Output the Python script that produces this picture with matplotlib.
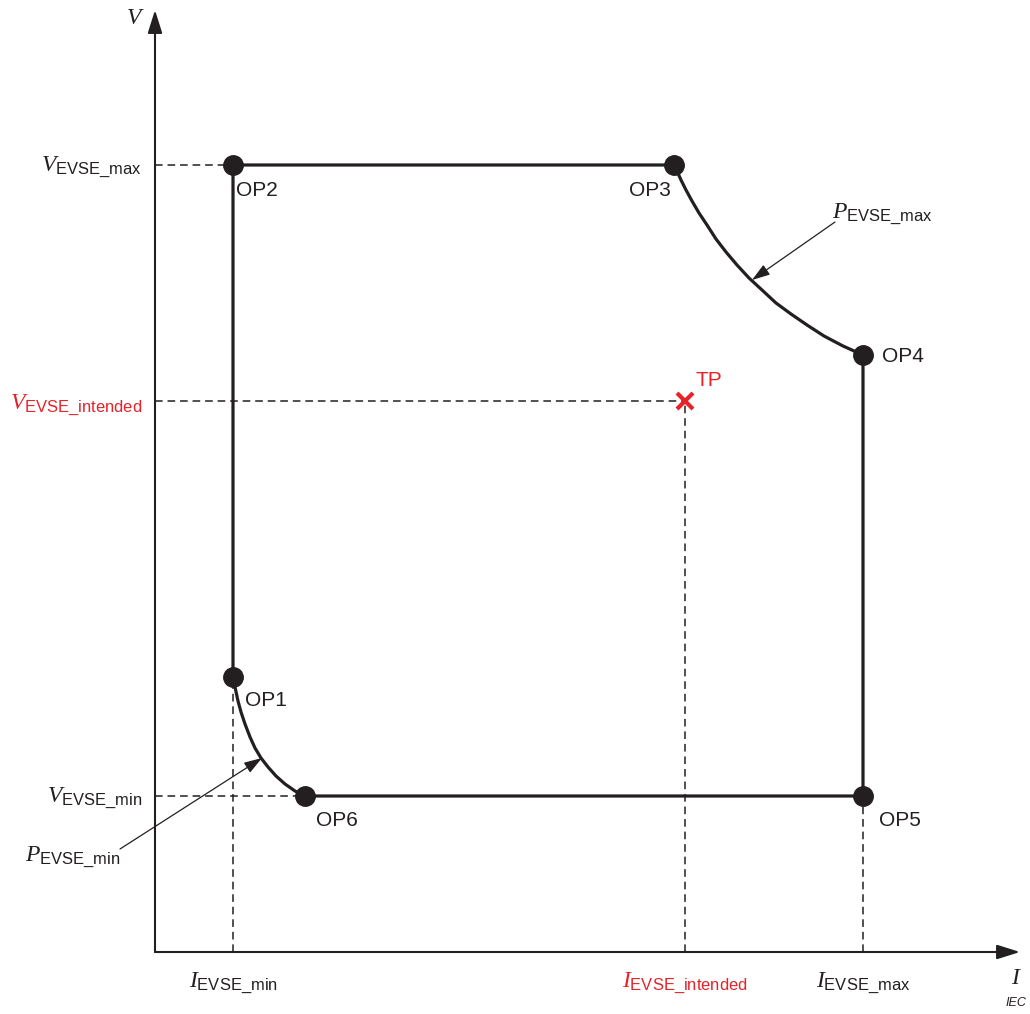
import matplotlib
matplotlib.use("Agg")
import matplotlib.pyplot as plt

plt.rcParams["font.family"] = ["Liberation Sans", "DejaVu Sans"]
plt.rcParams["mathtext.fontset"] = "custom"
plt.rcParams["mathtext.rm"] = "Liberation Sans"
plt.rcParams["mathtext.it"] = "Liberation Serif:italic"

INK = "#231f20"
RED = "#e52329"

# limits (schematic units)
i_min, i_intended, i_max = 78, 530, 708
v_min, v_intended, v_max = 156, 551, 787

# operating points
op_names = ["OP1", "OP2", "OP3", "OP4", "OP5", "OP6"]
op_i = [78, 78, 519, 708, 708, 150]
op_v = [275, 787, 787, 597, 156, 156]

# constant power curves
pmax_i = [519, 522, 526, 531, 537, 544, 552, 561, 571, 582, 594, 607, 621, 636,
          652, 669, 688, 708]
pmax_v = [787, 781, 772, 762, 751, 739, 727, 713, 700, 687, 674, 662, 649, 638,
          627, 616, 606, 597]
pmin_i = [78, 80, 83, 86, 90, 95, 100, 106, 113, 121, 130, 140, 150]
pmin_v = [275, 265, 251, 240, 228, 215, 204, 194, 185, 176, 168, 161, 156]

# test point
tp_i, tp_v = 530, 551

fig = plt.figure(figsize=(10.3, 10.14), dpi=100)
ax = fig.add_axes([0, 0, 1, 1])
ax.set_xlim(-155, 875)
ax.set_ylim(-62, 952)
ax.axis("off")

# axes with arrow heads
axis_style = dict(arrowstyle="-|>,head_length=0.7,head_width=0.22",
                  lw=1.5, color=INK, mutation_scale=20, shrinkA=0, shrinkB=0)
ax.annotate("", xy=(865, 0), xytext=(0, 0), arrowprops=axis_style)
ax.annotate("", xy=(0, 942), xytext=(0, 0), arrowprops=axis_style)

# dashed guide lines
dash = dict(color=INK, lw=1.1, dashes=(5, 3.2))
ax.plot([0, op_i[1]], [v_max, v_max], **dash)
ax.plot([0, op_i[5]], [v_min, v_min], **dash)
ax.plot([0, tp_i], [v_intended, v_intended], **dash)
ax.plot([i_min, i_min], [0, op_v[0]], **dash)
ax.plot([i_max, i_max], [0, op_v[4]], **dash)
ax.plot([i_intended, i_intended], [0, tp_v], **dash)

# operating envelope
env_i = op_i[0:3] + pmax_i + op_i[3:6] + pmin_i[::-1]
env_v = op_v[0:3] + pmax_v + op_v[3:6] + pmin_v[::-1]
ax.plot(env_i, env_v, color=INK, lw=2.3, solid_joinstyle="round", zorder=3)
ax.plot(op_i, op_v, "o", color=INK, ms=14, zorder=4)

ax.plot(tp_i, tp_v, "x", color=RED, ms=12, mew=3, zorder=5)
ax.text(540, 571, "TP", color=RED, fontsize=15, va="center", ha="left")

# operating point labels
op_label_pos = [(90, 252), (81, 762), (474, 762), (727, 596), (724, 131), (161, 131)]
for name, (x, y) in zip(op_names, op_label_pos):
    ax.text(x, y, name, color=INK, fontsize=15, va="center", ha="left")

# power arrows
thin = dict(arrowstyle="-|>,head_length=0.55,head_width=0.18", lw=0.9,
            color=INK, mutation_scale=20, shrinkA=0, shrinkB=0)
ax.annotate("", xy=(597, 672), xytext=(680, 730), arrowprops=thin)
ax.annotate("", xy=(107, 194), xytext=(-35, 103), arrowprops=thin)

fs = 17
ax.text(677, 738, r"$\mathit{P}_{\mathrm{EVSE\_max}}$", color=INK, fontsize=fs,
        va="center", ha="left")
ax.text(-130, 95, r"$\mathit{P}_{\mathrm{EVSE\_min}}$", color=INK, fontsize=fs,
        va="center", ha="left")

ax.text(-13, v_max - 2, r"$\mathit{V}_{\mathrm{EVSE\_max}}$", color=INK, fontsize=fs,
        va="center", ha="right")
ax.text(-13, v_intended - 4, r"$\mathit{V}_{\mathrm{EVSE\_intended}}$", color=RED,
        fontsize=fs, va="center", ha="right")
ax.text(-13, v_min - 2, r"$\mathit{V}_{\mathrm{EVSE\_min}}$", color=INK, fontsize=fs,
        va="center", ha="right")

ax.text(i_min, -31, r"$\mathit{I}_{\mathrm{EVSE\_min}}$", color=INK, fontsize=fs,
        va="center", ha="center")
ax.text(i_intended, -31, r"$\mathit{I}_{\mathrm{EVSE\_intended}}$", color=RED,
        fontsize=fs, va="center", ha="center")
ax.text(i_max, -31, r"$\mathit{I}_{\mathrm{EVSE\_max}}$", color=INK, fontsize=fs,
        va="center", ha="center")

ax.text(-20, 934, r"$\mathit{V}$", color=INK, fontsize=fs, va="center", ha="center")
ax.text(861, -26, r"$\mathit{I}$", color=INK, fontsize=fs, va="center", ha="center")
ax.text(861, -51, "IEC", color=INK, fontsize=9, style="italic", va="center",
        ha="center")

fig.savefig("out.png", dpi=100)
